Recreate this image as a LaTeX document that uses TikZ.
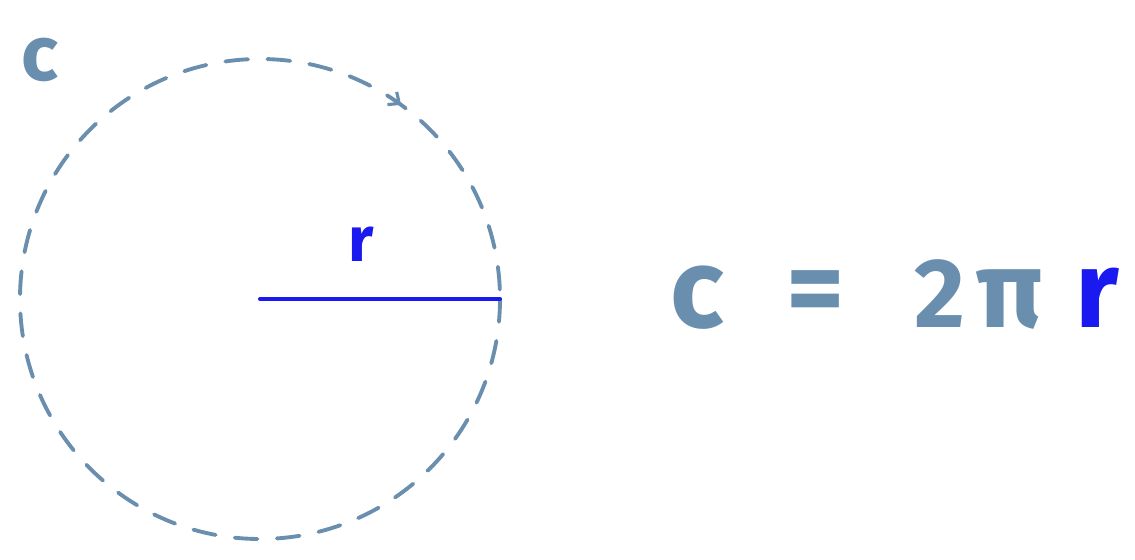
\documentclass[tikz,border=0pt]{standalone}
\usepackage{fontspec}
\setmainfont{Fira Sans}
\usetikzlibrary{arrows.meta,decorations.markings}
\definecolor{chalk}{HTML}{6A8FAE}
\definecolor{radblue}{HTML}{1A1AF0}
\tikzset{
  hand/.style={font=\fontsize{#1}{#1}\selectfont\bfseries, inner sep=0pt, anchor=base},
  hand/.default=64
}
\begin{document}
\begin{tikzpicture}[x=0.02cm, y=-0.02cm]   %% circle and formula
        \useasboundingbox (0,0) rectangle (1135,560);
        \coordinate (o) at (260,299);
        \coordinate (rim) at (500,299);
        \draw [chalk, line width=2.2pt, line cap=round, dash pattern=on 13pt off 11pt,
               postaction={decorate, decoration={markings,
               mark=at position 0.85 with {\arrow[chalk, solid, line width=1.8pt]{Straight Barb[length=5pt, width=9pt]}}}}]
              (o) circle [radius=240];
        \draw [radblue, line width=2.3pt, line cap=round] (o) -- (rim);
        \node [hand=44, text=chalk] (clab) at (40,81) {c};
        \node [hand=36, text=radblue] (rlab) at (361,262) {r};
        \node [hand, text=chalk] (eqc) at (697,328) {c};
        \node [hand, text=chalk] (eqeq) at (816,326) {=};
        \node [hand=56, text=chalk] (eqtwo) at (940,328) {2};
        \node [hand=62, text=chalk] (eqpi) at (1010,328) {π};
        \node [hand=62, text=radblue] (eqr) at (1097,328) {r};
    \end{tikzpicture}
\end{document}
